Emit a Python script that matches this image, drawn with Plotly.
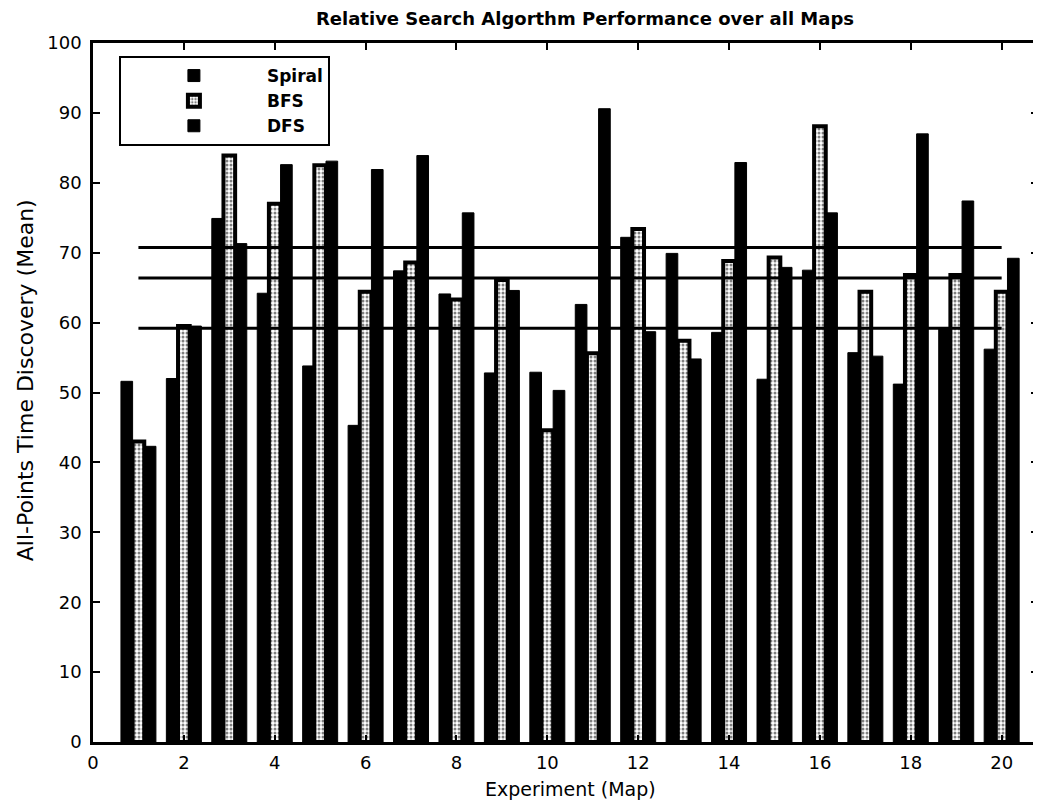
import numpy as np
import plotly.graph_objects as go

experiments = list(range(1, 21))
spiral = [51.6, 52.0, 74.9, 64.2, 53.8, 45.3, 67.4, 64.1, 52.8, 52.9,
          62.6, 72.2, 69.9, 58.6, 51.9, 67.5, 55.7, 51.2, 59.3, 56.2]
bfs = [43.0, 59.5, 83.9, 77.0, 82.5, 64.4, 68.6, 63.3, 66.1, 44.6,
       55.6, 73.4, 57.4, 68.8, 69.3, 88.1, 64.4, 66.8, 66.8, 64.4]
dfs = [42.3, 59.5, 71.3, 82.6, 83.1, 81.9, 83.9, 75.7, 64.6, 50.3,
       90.6, 58.7, 54.8, 82.9, 67.9, 75.7, 55.2, 87.0, 77.4, 69.2]
series_names = ["Spiral", "BFS", "DFS"]
x_ticks = list(range(0, 21, 2))
y_ticks = list(range(0, 101, 10))

FONT = "DejaVu Sans"

fig = go.Figure()
fig.add_trace(go.Bar(x=experiments, y=spiral, name=series_names[0],
                     marker=dict(color="black", line=dict(color="black", width=1))))
fig.add_trace(go.Bar(x=experiments, y=bfs, name=series_names[1],
                     marker=dict(color="white", line=dict(color="black", width=4),
                                 pattern=dict(shape=".", fgcolor="black", bgcolor="white",
                                              size=4, solidity=0.45))))
fig.add_trace(go.Bar(x=experiments, y=dfs, name=series_names[2],
                     marker=dict(color="black", line=dict(color="black", width=1))))

# mean lines across all maps
for vals in (spiral, bfs, dfs):
    m = float(np.mean(vals))
    fig.add_trace(go.Scatter(x=[experiments[0], experiments[-1]], y=[m, m],
                             mode="lines", line=dict(color="black", width=3),
                             showlegend=False, hoverinfo="skip"))

# the page body has an 8px margin: figure size and margins compensate for it
fig.update_layout(
    width=1033, height=794,
    margin=dict(l=85, r=0, t=35, b=60),
    paper_bgcolor="white", plot_bgcolor="white",
    barmode="group", bargap=0.23, bargroupgap=0.0,
    font=dict(family=FONT, color="black", size=18),
    title=dict(text="Relative Search Algorthm Performance over all Maps",
               x=577 / 1033, xanchor="center", xref="container",
               y=1 - 11 / 794, yref="container", yanchor="middle",
               font=dict(family=FONT, size=18, weight="bold", color="black")),
    legend=dict(x=(119 - 93) / 948, y=(742 - 56) / 699, xanchor="left", yanchor="top",
                bgcolor="white", bordercolor="black", borderwidth=2,
                font=dict(family=FONT, size=17, weight="bold", color="black"),
                itemwidth=136, entrywidth=212, entrywidthmode="pixels",
                traceorder="normal"),
    xaxis=dict(range=[0, 20.8], tickmode="array", tickvals=x_ticks,
               ticktext=[str(t) for t in x_ticks],
               ticks="inside", ticklen=7, tickwidth=2, tickcolor="black",
               showline=True, linecolor="black", linewidth=2.5, mirror="ticks",
               showgrid=False, zeroline=False, ticklabelstandoff=3,
               tickfont=dict(family=FONT, size=18, color="black")),
    yaxis=dict(range=[0, 100], tickmode="array", tickvals=y_ticks,
               ticktext=[str(t) for t in y_ticks],
               ticks="inside", ticklen=7, tickwidth=2, tickcolor="black",
               showline=True, linecolor="black", linewidth=2.5, mirror="ticks",
               showgrid=False, zeroline=False, ticklabelstandoff=5,
               tickfont=dict(family=FONT, size=18, color="black")),
    annotations=[
        dict(text="Experiment (Map)", x=(572 - 93) / 948, y=(742 - 789) / 699,
             xref="paper", yref="paper", xanchor="center", yanchor="middle",
             showarrow=False, font=dict(family=FONT, size=19, color="black")),
        dict(text="All-Points Time Discovery (Mean)", x=(25 - 93) / 948,
             y=(742 - 380) / 699,
             xref="paper", yref="paper", xanchor="center", yanchor="middle",
             textangle=-90, showarrow=False,
             font=dict(family=FONT, size=22, color="black")),
    ],
)

fig.write_html("out.html")
